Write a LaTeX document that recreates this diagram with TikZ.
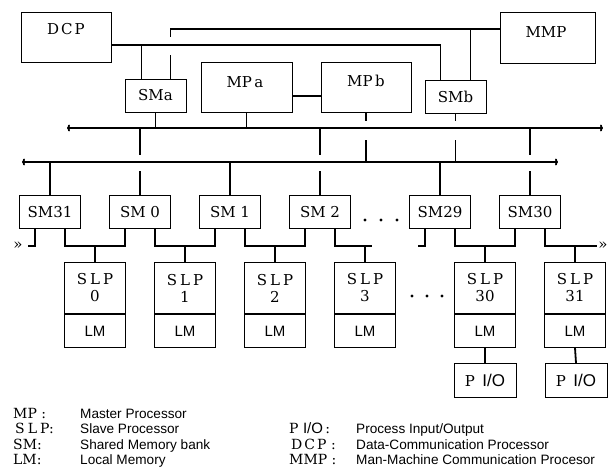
\documentclass[tikz,border=0pt]{standalone}
\usepackage{fontspec}
\setmainfont{DejaVu Serif}
\newfontfamily\condfont{Liberation Sans}
\usetikzlibrary{arrows.meta}

\tikzset{
  box/.style={draw, line width=0.9pt, inner sep=0pt},
  smbox/.style={box, minimum width=61pt, minimum height=33pt, font=\fontsize{15}{15}\selectfont},
  slpbox/.style={box, anchor=north, minimum width=61pt, minimum height=51pt, align=center, font=\fontsize{15}{17}\selectfont},
  lmbox/.style={box, anchor=north, minimum width=61pt, minimum height=33pt, font=\condfont\fontsize{15}{15}\selectfont},
  piobox/.style={box, anchor=north, minimum width=62pt, minimum height=34pt, font=\fontsize{15}{15}\selectfont},
  link/.style={line width=1.8pt},
  bus/.style={line width=1.8pt, {To[length=3pt,width=7pt]}-{To[length=3pt,width=7pt]}},
  lbl/.style={inner sep=0pt, font=\fontsize{15}{15}\selectfont},
  key/.style={inner sep=0pt, anchor=base west, font=\fontsize{14}{14}\selectfont},
  desc/.style={inner sep=0pt, anchor=base west, font=\condfont\fontsize{13.6}{14}\selectfont},
}

\begin{document}
\begin{tikzpicture}[x=1pt, y=-1pt]
    \useasboundingbox (0,0) rectangle (611,471);

    % top level
    \node[box, minimum width=90pt, minimum height=50pt] (dcp) at (66,37) {};
    \node[lbl] (dcplbl) at (66,29) {D\kern2pt C\kern2pt P};
    \node[box, minimum width=95pt, minimum height=51pt] (mmp) at (547.5,37.5) {};
    \node[lbl] (mmplbl) at (546,32) {MMP};
    \node[smbox] (sma) at (155.5,95.5) {SMa};
    \node[box, minimum width=91pt, minimum height=50pt] (mpa) at (246.5,87) {};
    \node[lbl] (mpalbl) at (245,82) {MP\,a};
    \node[box, minimum width=90pt, minimum height=50pt] (mpb) at (366,87) {};
    \node[lbl] (mpblbl) at (366,81) {MP\,b};
    \node[smbox] (smb) at (455.5,96.5) {SMb};

    \draw[link] ([yshift=8.5pt]mmp.west) -| ++(-329,8);
    \draw[link] ([xshift=15pt]sma.north) -- ++(0,-24);
    \draw[link] ([xshift=15pt]smb.north) -- ++(0,-51);
    \draw[link] ([yshift=-8pt]dcp.east) -| ([xshift=-15pt]smb.north);
    \draw[link] ([xshift=-14pt]sma.north) -- ++(0,-34);
    \draw[link] ([yshift=-9pt]mpa.east) -- ([yshift=-9pt]mpb.west);

    % buses
    \coordinate (bus1w) at (67,128);
    \coordinate (bus1e) at (603,128);
    \coordinate (bus2w) at (22,162);
    \coordinate (bus2e) at (558,162);
    \draw[bus] (bus1w) -- (bus1e);
    \draw[bus] (bus2w) -- (bus2e);

    \draw[link] (sma.south) -- (sma.south |- bus1w);
    \draw[link] (mpa.south) -- (mpa.south |- bus1w);
    \draw[link] (mpb.south) -- ++(0,9);
    \draw[link] (mpb.south |- bus2w) -- ++(0,-22);
    \draw[link] (smb.south) -- ++(0,8);
    \draw[link] (smb.south |- bus2w) -- ++(0,-22);

    % shared memory banks
    \node[smbox] (sm31) at (50,212) {SM31};
    \node[smbox] (sm0) at (140,212) {SM 0};
    \node[smbox] (sm1) at (230,212) {SM 1};
    \node[smbox] (sm2) at (320,212) {SM 2};
    \node[smbox] (sm29) at (440,212) {SM29};
    \node[smbox] (sm30) at (530,212) {SM30};

    \draw[link] (sm31.north) -- (sm31.north |- bus2w);
    \draw[link] (sm1.north) -- (sm1.north |- bus2w);
    \draw[link] (sm29.north) -- (sm29.north |- bus2w);
    \draw[link] (sm0.north |- bus1w) -- ++(0,27);
    \draw[link] (sm0.north) -- ++(0,-24);
    \draw[link] (sm2.north |- bus1w) -- ++(0,27);
    \draw[link] (sm2.north) -- ++(0,-24);
    \draw[link] (sm30.north |- bus1w) -- ++(0,27);
    \draw[link] (sm30.north) -- ++(0,-24);

    % slave processors
    \node[slpbox] (slp0) at (95,262) {S\kern3pt L\kern3pt P\\0};
    \node[lmbox] (lm0) at (slp0.south) {LM};
    \node[slpbox] (slp1) at (185,262) {S\kern3pt L\kern3pt P\\1};
    \node[lmbox] (lm1) at (slp1.south) {LM};
    \node[slpbox] (slp2) at (275,262) {S\kern3pt L\kern3pt P\\2};
    \node[lmbox] (lm2) at (slp2.south) {LM};
    \node[slpbox] (slp3) at (365,262) {S\kern3pt L\kern3pt P\\3};
    \node[lmbox] (lm3) at (slp3.south) {LM};
    \node[slpbox] (slp30) at (485,262) {S\kern3pt L\kern3pt P\\30};
    \node[lmbox] (lm30) at (slp30.south) {LM};
    \node[slpbox] (slp31) at (575,262) {S\kern3pt L\kern3pt P\\31};
    \node[lmbox] (lm31) at (slp31.south) {LM};
    \node[piobox] (pio30) at (485,363) {P\ \,{\condfont\fontsize{17}{17}\selectfont I/O}};
    \node[piobox] (pio31) at (576,363) {P\ \,{\condfont\fontsize{17}{17}\selectfont I/O}};
    \draw[link] (lm30.south) -- (pio30.north);
    \draw[link] (lm31.south) -- (pio31.north);

    \draw[link] ([xshift=15pt]sm31.south) -- ++(0,17) -| ([xshift=-15pt]sm0.south);
    \draw[link] ([xshift=15pt]sm0.south) -- ++(0,17) -| ([xshift=-15pt]sm1.south);
    \draw[link] ([xshift=15pt]sm1.south) -- ++(0,17) -| ([xshift=-15pt]sm2.south);
    \draw[link] ([xshift=15pt]sm29.south) -- ++(0,17) -| ([xshift=-15pt]sm30.south);
    \draw[link] ([xshift=-15pt]sm31.south) -- ++(0,17) -- ++(-7,0);
    \draw[link] ([xshift=15pt]sm2.south) -- ++(0,17) -- ++(37,0);
    \draw[link] ([xshift=-15pt]sm29.south) -- ++(0,17) -- ++(-7,0);
    \draw[link] ([xshift=15pt]sm30.south) -- ++(0,17) -- ++(52,0);
    \draw[link] (slp0.north) -- ++(0,-17);
    \draw[link] (slp1.north) -- ++(0,-17);
    \draw[link] (slp2.north) -- ++(0,-17);
    \draw[link] (slp3.north) -- ++(0,-17);
    \draw[link] (slp30.north) -- ++(0,-17);
    \draw[link] (slp31.north) -- ++(0,-17);
    \node[lbl] (contl) at (18,246) {»};
    \node[lbl] (contr) at (603,246) {»};

    % dots
    \fill (365,220) circle (1.6pt) (381,220) circle (1.6pt) (397,220) circle (1.6pt);
    \fill (412,296) circle (1.6pt) (427,296) circle (1.6pt) (442,296) circle (1.6pt);

    % legend
    \node[key] (kmp) at (13,418) {MP\ :};
    \node[key] (kslp) at (15,433.5) {S\kern3pt L\kern3pt P:};
    \node[key] (ksm) at (13,449) {SM:};
    \node[key] (klm) at (13,464.5) {LM:};
    \node[desc] (dmp) at (80,418) {Master Processor};
    \node[desc] (dslp) at (80,433.5) {Slave Processor};
    \node[desc] (dsm) at (80,449) {Shared Memory bank};
    \node[desc] (dlm) at (80,464.5) {Local Memory};
    \node[key] (kpio) at (289,433.5) {P\ {\condfont\fontsize{15}{15}\selectfont I/O}\,:};
    \node[key] (kdcp) at (291,449) {D\kern2pt C\kern2pt P\ :};
    \node[key] (kmmp) at (289,464.5) {MMP\ :};
    \node[desc] (dpio) at (356,433.5) {Process Input/Output};
    \node[desc] (ddcp) at (356,449) {Data-Communication Processor};
    \node[desc] (dmmp) at (356,464.5) {Man-Machine Communication Procesor};
\end{tikzpicture}
\end{document}
